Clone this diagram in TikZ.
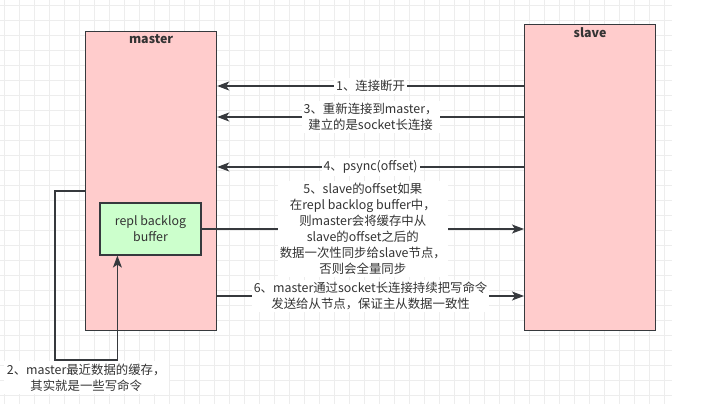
\documentclass[tikz,border=0pt]{standalone}
\usepackage{fontspec}
\setmainfont{Noto Sans CJK SC}
\usetikzlibrary{arrows.meta,positioning}
\definecolor{boxpink}{HTML}{FFCCCC}
\definecolor{boxgreen}{HTML}{CCFFCC}
\definecolor{linegray}{HTML}{36393D}
\definecolor{textgray}{HTML}{333333}
\definecolor{gridgray}{HTML}{EDEDED}

\begin{document}
\begin{tikzpicture}[x=1pt,y=-1pt,
    font=\fontsize{12.4}{16}\selectfont,
    gridline/.style={draw=gridgray,line width=0.8pt},
    hostbox/.style={draw=linegray,fill=boxpink,line width=1.2pt,minimum width=131pt,inner sep=0pt,anchor=north west},
    bufbox/.style={draw=linegray,fill=boxgreen,line width=1.2pt,minimum width=101pt,minimum height=52pt,inner sep=0pt,align=center,text=textgray},
    arr/.style={draw=linegray,line width=1.2pt,-{Stealth[length=12pt,width=9pt,inset=3pt]}},
    lbl/.style={fill=white,text=textgray,align=center,inner sep=2pt},
]
    \useasboundingbox (0,0) rectangle (724,414);
    \foreach \gx in {4,19,...,664} \draw[gridline] (\gx,0) -- (\gx,404);
    \foreach \gy in {5,20,...,395} \draw[gridline] (0,\gy) -- (672,\gy);

    \node [hostbox,minimum height=299pt,label={[anchor=north,inner sep=3pt,text=textgray]north:\bfseries master}] (master) at (85,31) {};
    \node [hostbox,minimum height=306pt,label={[anchor=north,inner sep=3pt,text=textgray]north:\bfseries slave}] (slave) at (524,24) {};
    \node [bufbox] (buf) at (150.5,229) {repl backlog\\buffer};

    \path (slave.north west) ++(0,62) coordinate (s1);
    \path (slave.north west) ++(0,93) coordinate (s3);
    \path (slave.north west) ++(0,143) coordinate (s4);
    \draw [arr] (s1) -- (s1 -| master.east) node [lbl,pos=0.5] {1、连接断开};
    \draw [arr] (s3) -- (s3 -| master.east) node [lbl,pos=0.5] {3、重新连接到master，\\建立的是socket长连接};
    \draw [arr] (s4) -- (s4 -| master.east) node [lbl,pos=0.5] {4、psync(offset)};

    \draw [arr] (buf.east) -- (buf.east -| slave.west) node [lbl,pos=0.5] {5、slave的offset如果\\在repl backlog buffer中，\\则master会将缓存中从\\slave的offset之后的\\数据一次性同步给slave节点，\\否则会全量同步};

    \path (master.north east) ++(0,265) coordinate (m6);
    \draw [arr] (m6) -- (m6 -| slave.west) node [lbl,pos=0.5] {6、master通过socket长连接持续把写命令\\发送给从节点，保证主从数据一致性};

    \path (master.north west) ++(0,160) coordinate (m2);
    \path (m2) ++(-30,169) coordinate (c2);
    \path (buf.south west) ++(18,0) coordinate (b2);
    \draw [arr] (m2) -| (c2) -| (b2) node [lbl,below,pos=0.25,inner sep=3pt] {2、master最近数据的缓存，\\其实就是一些写命令};

\end{tikzpicture}
\end{document}
